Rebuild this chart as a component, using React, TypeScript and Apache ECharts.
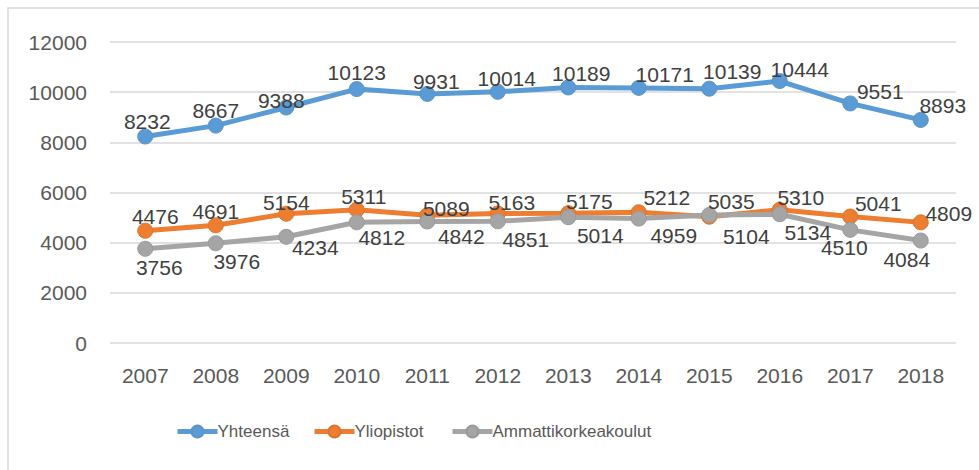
import React, { useEffect, useRef } from "react";
import * as echarts from "echarts";

const years = ["2007", "2008", "2009", "2010", "2011", "2012", "2013", "2014", "2015", "2016", "2017", "2018"];
const yhteensa = [8232, 8667, 9388, 10123, 9931, 10014, 10189, 10171, 10139, 10444, 9551, 8893];
const yliopistot = [4476, 4691, 5154, 5311, 5089, 5163, 5175, 5212, 5035, 5310, 5041, 4809];
const amk = [3756, 3976, 4234, 4812, 4842, 4851, 5014, 4959, 5104, 5134, 4510, 4084];
const seriesNames = ["Yhteensä", "Yliopistot", "Ammattikorkeakoulut"];

// label offsets from the marker centre (styling)
const blueShift = [[2, -15], [0, -15], [-5, -7], [0, -17], [9, -12], [9, -13], [13, -14], [26, -13], [23, -17], [20, -12], [30, -12], [22, -14]];
const orangeShift = [[10, -14], [0, -14], [0, -11], [7, -13], [19, -7], [14, -11], [21, -12], [28, -15], [22, -15], [21, -12], [28, -13], [28, -9]];
const grayShift = [[14, 19], [21, 18], [29, 11], [25, 15], [34, 15], [28, 18], [32, 18], [35, 17], [37, 22], [28, 18], [-6, 18], [-14, 19]];

const FONT = "'Liberation Sans', Arial, sans-serif";

function mk(name: string, values: number[], shifts: number[][], color: string, border: string) {
  return {
    name,
    type: "line",
    data: values.map((v, i) => ({
      value: v,
      label: { offset: shifts[i] },
    })),
    symbol: "circle",
    symbolSize: 15,
    lineStyle: { width: 5, color },
    itemStyle: { color, borderColor: border, borderWidth: 1 },
    label: {
      show: true,
      position: "inside",
      color: "#404040",
      fontSize: 21,
      fontFamily: FONT,
    },
    emphasis: { disabled: true },
  };
}

const legendX = [175, 312, 450];

export default function App() {
  const ref = useRef<HTMLDivElement>(null);
  useEffect(() => {
    if (!ref.current) return;
    const chart = echarts.init(ref.current, null, { renderer: "svg" });
    chart.setOption({
      animation: false,
      backgroundColor: "#ffffff",
      textStyle: { fontFamily: FONT },
      graphic: [
        {
          type: "rect",
          shape: { x: 8, y: 8, width: 1200, height: 800 },
          style: { fill: "none", stroke: "#d9d9d9", lineWidth: 1.5 },
          silent: true,
        },
      ],
      grid: { left: 110, right: 23, top: 42, bottom: 127 },
      xAxis: {
        type: "category",
        data: years,
        boundaryGap: true,
        axisLine: { show: false },
        axisTick: { show: false },
        axisLabel: { color: "#595959", fontSize: 21, fontFamily: FONT, margin: 22 },
      },
      yAxis: {
        type: "value",
        min: 0,
        max: 12000,
        interval: 2000,
        axisLine: { show: false },
        axisTick: { show: false },
        splitLine: { lineStyle: { color: "#d9d9d9", width: 1.5 } },
        axisLabel: {
          color: "#595959",
          fontSize: 21,
          fontFamily: FONT,
          margin: 23,
          formatter: (v: number) => String(v),
        },
      },
      legend: seriesNames.map((n, i) => ({
        left: legendX[i],
        top: 423,
        padding: 0,
        itemWidth: 40,
        itemHeight: 15,
        itemGap: 0,
        lineStyle: { width: 5 },
        textStyle: { color: "#595959", fontSize: 17, fontFamily: FONT, padding: [0, 0, 0, -5] },
        data: [n],
      })),
      series: [
        mk(seriesNames[0], yhteensa, blueShift, "#5B9BD5", "#5b94c8"),
        mk(seriesNames[1], yliopistot, orangeShift, "#ED7D31", "#dd7430"),
        mk(seriesNames[2], amk, grayShift, "#A5A5A5", "#9a9a9a"),
      ],
    });
    return () => chart.dispose();
  }, []);
  return <div ref={ref} style={{ position: "fixed", left: 0, top: 0, width: 979, height: 470 }} />;
}
